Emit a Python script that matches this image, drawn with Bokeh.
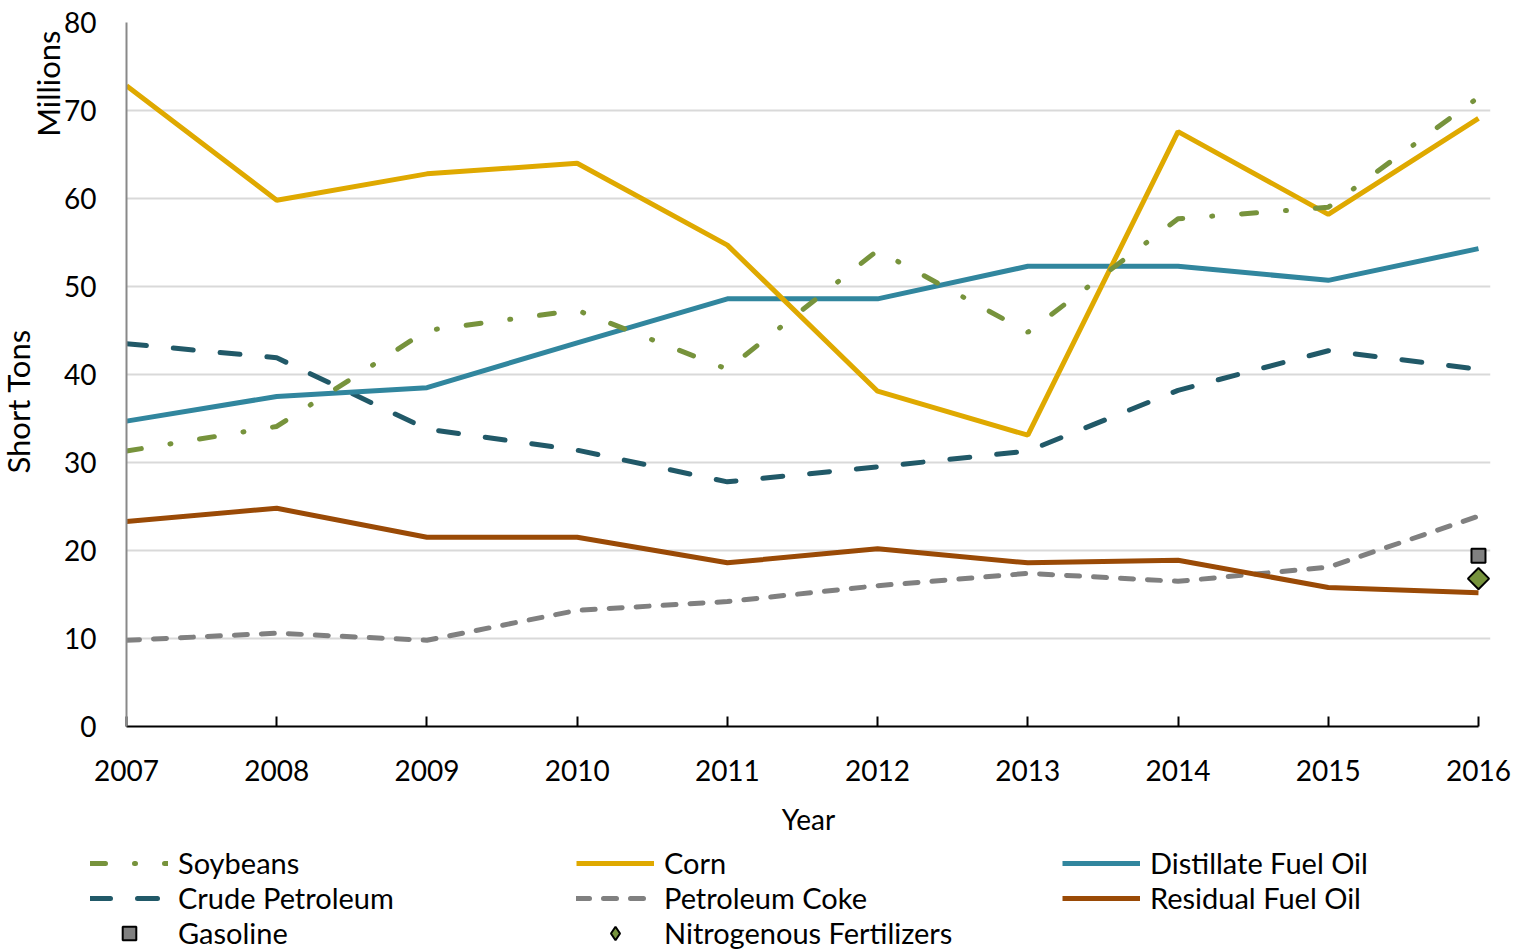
from bokeh.plotting import figure
from bokeh.models import (ColumnDataSource, FixedTicker, Legend, LegendItem, Title, Range1d)
from bokeh.embed import file_html
from bokeh.resources import INLINE
import math

years = [2007, 2008, 2009, 2010, 2011, 2012, 2013, 2014, 2015, 2016]
soybeans = [31.3, 34.1, 45.0, 47.3, 40.6, 54.1, 44.8, 57.7, 59.0, 71.5]
corn = [72.8, 59.8, 62.8, 64.0, 54.7, 38.1, 33.1, 67.6, 58.2, 69.1]
distillate = [34.7, 37.5, 38.5, 43.6, 48.6, 48.6, 52.3, 52.3, 50.7, 54.3]
crude = [43.5, 41.9, 33.8, 31.4, 27.8, 29.5, 31.3, 38.2, 42.7, 40.6]
pet_coke = [9.8, 10.6, 9.8, 13.2, 14.2, 16.0, 17.4, 16.5, 18.1, 23.9]
residual = [23.3, 24.8, 21.5, 21.5, 18.6, 20.2, 18.6, 18.9, 15.8, 15.2]
gasoline_year = [2016]
gasoline = [19.4]
nitro_year = [2016]
nitrogenous = [16.8]
y_ticks = [0, 10, 20, 30, 40, 50, 60, 70, 80]

series_names = ["Soybeans", "Corn", "Distillate Fuel Oil", "Crude Petroleum",
                "Petroleum Coke", "Residual Fuel Oil"]
series_data = [soybeans, corn, distillate, crude, pet_coke, residual]
series_colors = ["#77933C", "#DFA900", "#31869E", "#215968", "#808080", "#9A4A06"]
series_dash = ["15 29 1 29", "solid", "solid", "20 27", "13 14", "solid"]

FONT = "Lato"
LW = 5

p = figure(width=1520, height=846, output_backend="svg", toolbar_location=None,
           x_range=Range1d(2007, 2016.08), y_range=Range1d(0, 80),
           min_border_left=126, min_border_right=30, min_border_top=22,
           min_border_bottom=120)
p.outline_line_color = None
p.background_fill_color = "white"
p.border_fill_color = "white"

p.xgrid.grid_line_color = None
p.ygrid.grid_line_color = "#D9D9D9"
p.ygrid.grid_line_width = 2

p.xaxis.ticker = FixedTicker(ticks=years)
p.yaxis.ticker = FixedTicker(ticks=y_ticks)
for ax in (p.xaxis[0], p.yaxis[0]):
    ax.major_label_text_font = FONT
    ax.major_label_text_font_size = "28px"
    ax.major_label_text_color = "black"
    ax.axis_label_text_font = FONT
    ax.axis_label_text_font_size = "28px"
    ax.axis_label_text_font_style = "normal"
    ax.axis_label_text_color = "black"
    ax.minor_tick_line_color = None

p.xaxis.bounds = (2007, 2016)
p.xaxis.axis_label = "Year"
p.xaxis.axis_line_color = "black"
p.xaxis.axis_line_width = 2
p.xaxis.major_tick_line_color = "black"
p.xaxis.major_tick_line_width = 2
p.xaxis.major_tick_in = 10
p.xaxis.major_tick_out = 0
p.xaxis.major_label_standoff = 33
p.xaxis.axis_label_standoff = 18

p.yaxis.axis_line_color = "#898989"
p.yaxis.axis_line_width = 2
p.yaxis.major_tick_line_color = None
p.yaxis.major_tick_in = 0
p.yaxis.major_tick_out = 0
p.yaxis.major_label_standoff = 30

p.add_layout(Title(text="Millions", align="right", offset=8, standoff=-10,
                   text_font=FONT, text_font_size="31px", text_font_style="normal",
                   text_line_height=1.0, text_color="black"), "left")
p.add_layout(Title(text="Short Tons", align="left", offset=253, standoff=-10,
                   text_font=FONT, text_font_size="31px", text_font_style="normal",
                   text_line_height=1.0, text_color="black"), "left")

src = ColumnDataSource(dict(year=years, **{n: d for n, d in zip(series_names, series_data)}))
draw_order = [4, 5, 3, 2, 1, 0]
for i in draw_order:
    p.line("year", series_names[i], source=src, line_color=series_colors[i], line_width=LW,
           line_dash=series_dash[i], line_cap="round" if series_dash[i] != "solid" else "butt")

p.scatter(gasoline_year, gasoline, marker="square", size=14, fill_color="#808080",
          line_color="black", line_width=2)
p.scatter(nitro_year, nitrogenous, marker="square", angle=math.pi / 4, size=15,
          fill_color="#76933C", line_color="black", line_width=2)

# legend strip below the chart (its glyphs use the same data, outside this strip's view)
lg = figure(width=1520, height=106, output_backend="svg", toolbar_location=None,
            x_range=Range1d(0, 1), y_range=Range1d(0, 1),
            x_axis_location=None, y_axis_location=None,
            min_border_left=0, min_border_right=0, min_border_top=0, min_border_bottom=0)
lg.grid.visible = False
lg.outline_line_color = None
lg.background_fill_color = "white"
lg.border_fill_color = "white"

items = []
for i in range(6):
    r = lg.line("year", series_names[i], source=src, line_color=series_colors[i],
                line_width=LW, line_dash=series_dash[i],
                line_cap="round" if series_dash[i] != "solid" else "butt")
    items.append(LegendItem(label=series_names[i], renderers=[r]))
rg = lg.scatter(gasoline_year, gasoline, marker="square", size=14, fill_color="#808080",
                line_color="black", line_width=2)
rn = lg.scatter(nitro_year, nitrogenous, marker="diamond", size=22,
                fill_color="#76933C", line_color="black", line_width=2)
items.append(LegendItem(label="Gasoline", renderers=[rg]))
items.append(LegendItem(label="Nitrogenous Fertilizers", renderers=[rn]))

legend = Legend(items=items, ncols=3, orientation="horizontal", location=(90, 2))
legend.border_line_color = None
legend.background_fill_alpha = 0
legend.label_text_font = FONT
legend.label_text_font_size = "29px"
legend.label_text_color = "black"
legend.glyph_width = 78
legend.glyph_height = 34
legend.label_height = 34
legend.label_width = 398
legend.label_standoff = 10
legend.spacing = 0
legend.padding = 0
legend.margin = 0
lg.add_layout(legend, "center")

open("out.html", "w").write(file_html([p, lg], INLINE))
